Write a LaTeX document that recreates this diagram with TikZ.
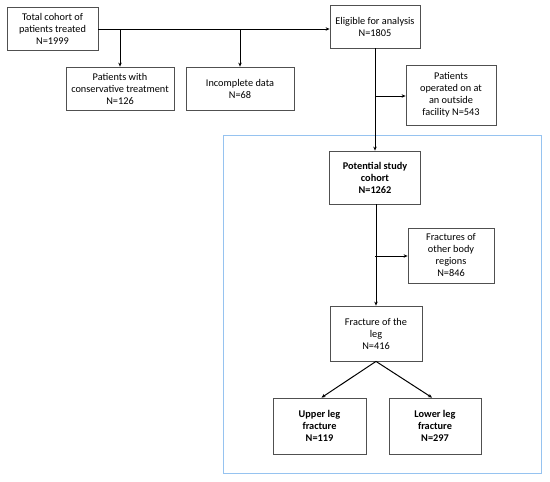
\documentclass[tikz,border=0pt]{standalone}
\usepackage{fontspec}
\setmainfont{Carlito}
\usetikzlibrary{arrows.meta}
\definecolor{frameblue}{RGB}{150,195,240}
\definecolor{boxgray}{RGB}{80,80,80}
\tikzset{
  box/.style={draw=boxgray, line width=0.8pt, rectangle, align=center, font=\fontsize{10.3}{12}\selectfont, inner sep=2pt},
  conn/.style={line width=1pt, black, -{Stealth[length=4pt,width=3.5pt]}},
  plain/.style={line width=1pt, black}
}
\begin{document}
\begin{tikzpicture}[x=1pt,y=-1pt]
\useasboundingbox (0,0) rectangle (550,482);
\draw[frameblue, line width=0.9pt] (223,135) rectangle (541,473);
\node[box, minimum width=91pt, minimum height=43pt] (tot) at (52.5,29) {Total cohort of\\patients treated\\N=1999};
\node[box, minimum width=108pt, minimum height=43pt] (cons) at (120,88.5) {Patients with\\conservative treatment\\N=126};
\node[box, minimum width=108pt, minimum height=43pt] (inc) at (240,88.5) {Incomplete data\\N=68};
\node[box, minimum width=90pt, minimum height=43pt] (elig) at (375,26.5) {Eligible for analysis\\N=1805};
\node[box, minimum width=90pt, minimum height=60pt] (out) at (451,95) {Patients\\operated on at\\an outside\\facility N=543};
\node[box, minimum width=91pt, minimum height=53pt, font=\fontsize{10.3}{12}\selectfont\bfseries] (pot) at (375,177.5) {Potential study\\cohort\\N=1262};
\node[box, minimum width=86pt, minimum height=55pt] (oth) at (451,255.5) {Fractures of\\other body\\regions\\N=846};
\node[box, minimum width=92pt, minimum height=55pt] (leg) at (376,333.5) {Fracture of the\\leg\\N=416};
\node[box, minimum width=93pt, minimum height=56pt, font=\fontsize{10.3}{12}\selectfont\bfseries] (up) at (319.5,426) {Upper leg\\fracture\\N=119};
\node[box, minimum width=92pt, minimum height=56pt, font=\fontsize{10.3}{12}\selectfont\bfseries] (low) at (435,426) {Lower leg\\fracture\\N=297};
\coordinate (b1) at (120,29);
\coordinate (b2) at (240,29);
\coordinate (b3) at (375,96);
\coordinate (b4) at (375,256);
\draw[conn] (tot.east) -- (tot.east -| elig.west);
\draw[conn] (b1) -- (cons.north);
\draw[conn] (b2) -- (inc.north);
\draw[conn] (elig.south) -- (pot.north);
\draw[conn] (b3) -- (b3 -| out.west);
\draw[conn] (pot.south -| leg.north) -- (leg.north);
\draw[conn] (b4) -- (b4 -| oth.west);
\draw[conn] (leg.south) -- ([xshift=2pt]up.north);
\draw[conn] (leg.south) -- ([xshift=-3pt]low.north);
\end{tikzpicture}
\end{document}
